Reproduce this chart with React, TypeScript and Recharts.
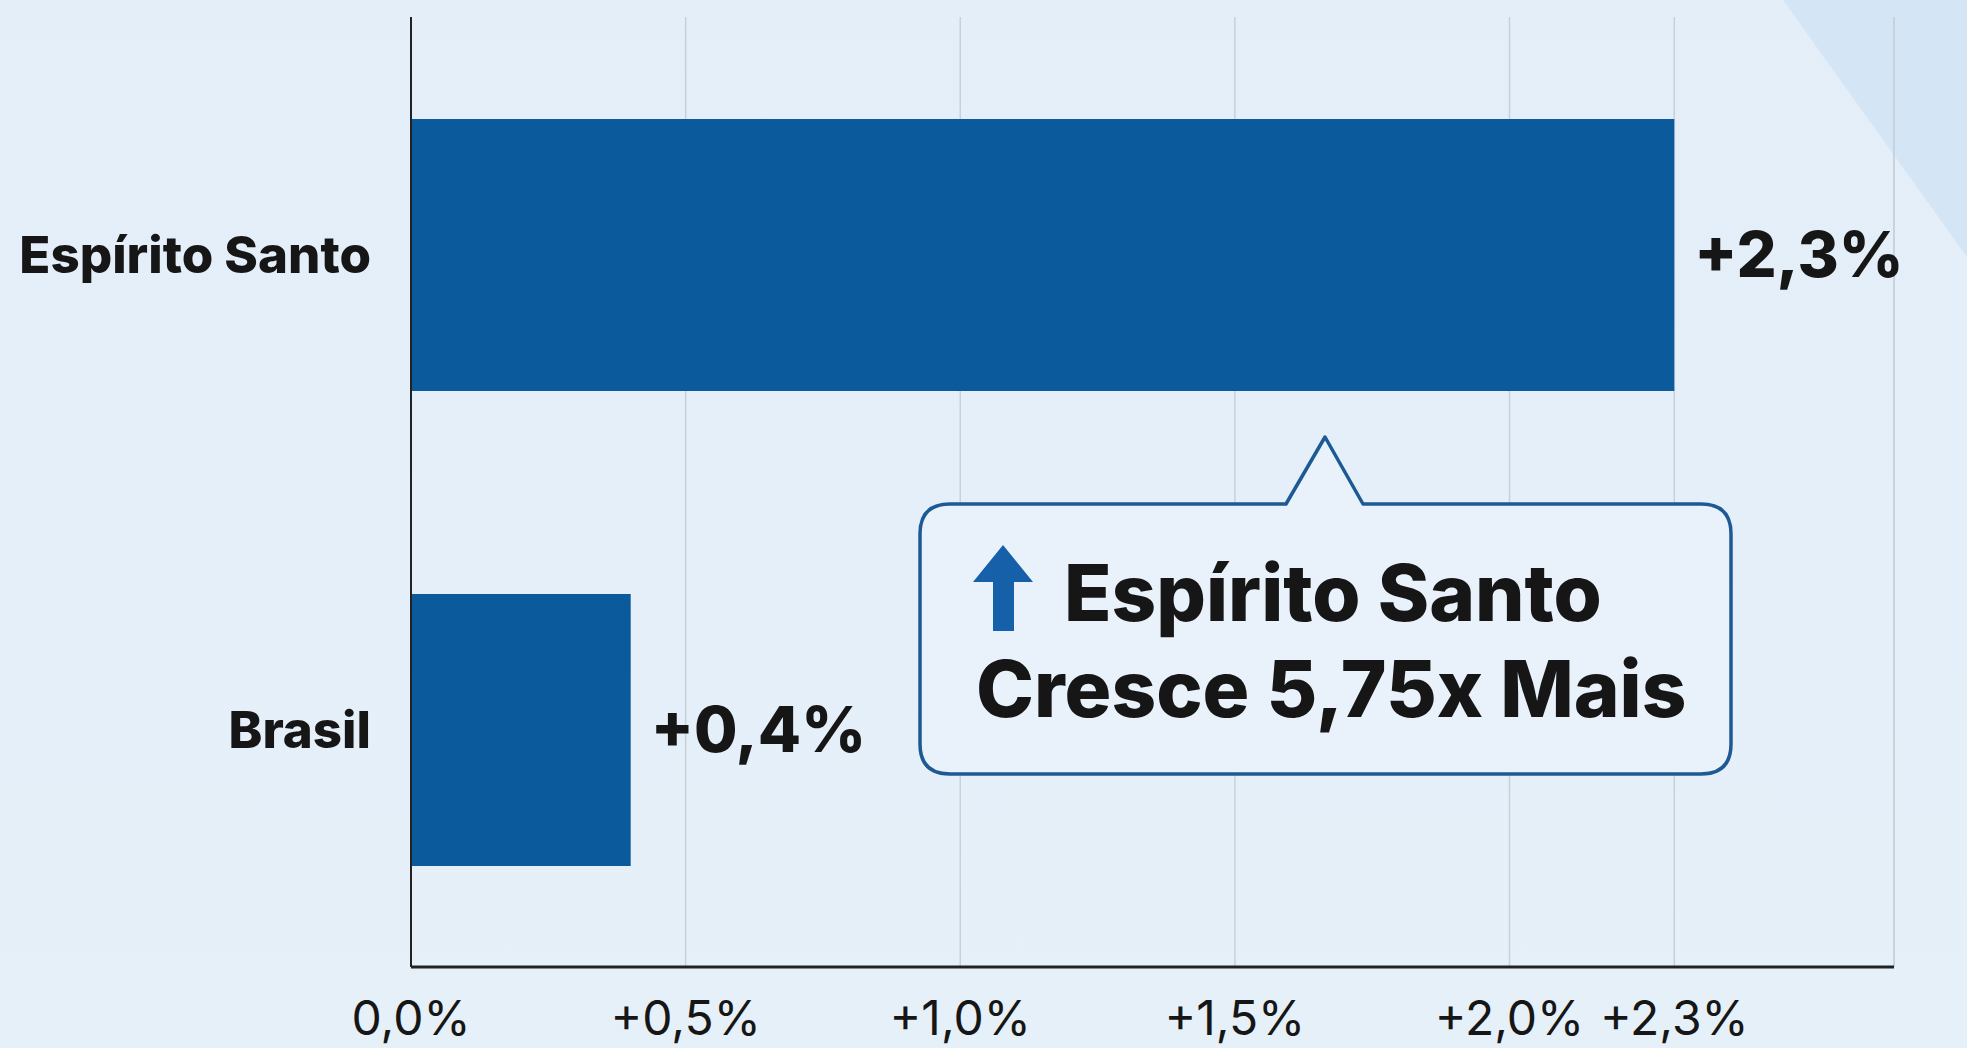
import {
    Bar,
    BarChart,
    CartesianGrid,
    LabelList,
    ReferenceLine,
    XAxis,
    YAxis
} from "recharts";

const regions = ["Espírito Santo", "Brasil"];
const growth = [2.3, 0.4];
const xTicks = [0, 0.5, 1.0, 1.5, 2.0, 2.3];
const xMax = 2.7;

const data = regions.map((name, i) => ({ name, growth: growth[i] }));

const FONT = "Inter, 'Open Sans', sans-serif";
const INK = "#161616";
const BLUE = "#0a5a9c";

const fmtPct = (v: number) =>
    v === 0 ? "0,0%" : `+${v.toFixed(1).replace(".", ",")}%`;

// speech bubble with an arrow, sits over the chart
const Callout = () => {
    const ratio = (growth[0] / growth[1]).toFixed(2).replace(".", ",");
    const x0 = 920, x1 = 1731, y0 = 504, y1 = 774, r = 30;
    const d = [
        `M ${x0 + r} ${y0}`,
        `L 1286 ${y0} L 1325 437 L 1363 ${y0}`,
        `L ${x1 - r} ${y0} Q ${x1} ${y0} ${x1} ${y0 + r}`,
        `L ${x1} ${y1 - r} Q ${x1} ${y1} ${x1 - r} ${y1}`,
        `L ${x0 + r} ${y1} Q ${x0} ${y1} ${x0} ${y1 - r}`,
        `L ${x0} ${y0 + r} Q ${x0} ${y0} ${x0 + r} ${y0} Z`,
    ].join(" ");
    return (
        <svg width={1967} height={1048} style={{ position: "absolute", left: 0, top: 0, pointerEvents: "none" }}>
            <path d={d} fill="#e9f2fb" stroke="#1d5a93" strokeWidth={3.5} strokeLinejoin="round" />
            <path d="M 1003 545 L 1033 582 L 1014 582 L 1014 631 L 993 631 L 993 582 L 973 582 Z" fill="#1560a8" />
            <text x={1064} y={621} fontFamily={FONT} fontSize={78} fontWeight={800} fill={INK}>
                {regions[0]}
            </text>
            <text x={976} y={717} fontFamily={FONT} fontSize={78} fontWeight={800} fill={INK}>
                {`Cresce ${ratio}x Mais`}
            </text>
        </svg>
    );
};

export default function App() {
    return (
        <div style={{
            position: "fixed",
            left: 0,
            top: 0,
            width: 1967,
            height: 1048,
            overflow: "hidden",
            background: "linear-gradient(180deg, #e3eef9 0%, #e6f0f9 100%)",
            fontFamily: FONT,
        }}>
            {/* decorative corner shape */}
            <svg width={1967} height={1048} style={{ position: "absolute", left: 0, top: 0 }}>
                <polygon points="1783,0 1967,0 1967,257" fill="#d4e6f5" />
            </svg>

            <div style={{ position: "absolute", left: 0, top: 0 }}>
                <BarChart
                    width={1967}
                    height={1048}
                    data={data}
                    layout="vertical"
                    margin={{ top: 17, right: 73, bottom: 0, left: 0 }}
                >
                    <CartesianGrid horizontal={false} stroke="#c8d0d8" strokeWidth={1.5} />
                    <XAxis
                        type="number"
                        domain={[0, xMax]}
                        ticks={xTicks}
                        interval={0}
                        allowDataOverflow
                        height={81}
                        axisLine={{ stroke: "#222", strokeWidth: 3 }}
                        tickLine={false}
                        tickSize={0}
                        tickMargin={34}
                        tick={{ fontSize: 48, fill: INK, fontFamily: FONT, fontWeight: 400 }}
                        tickFormatter={fmtPct}
                    />
                    <YAxis
                        type="category"
                        dataKey="name"
                        width={411}
                        axisLine={{ stroke: "#222", strokeWidth: 2 }}
                        tickLine={false}
                        tickSize={0}
                        tickMargin={40}
                        tick={{ fontSize: 51, fill: INK, fontFamily: FONT, fontWeight: 800 }}
                    />
                    <ReferenceLine x={xMax} stroke="#c8d0d8" strokeWidth={1.5} />
                    <Bar dataKey="growth" fill={BLUE} barSize={272} isAnimationActive={false}>
                        <LabelList
                            dataKey="growth"
                            position="right"
                            offset={20}
                            formatter={(v: any) => fmtPct(Number(v))}
                            style={{ fontSize: 63, fontWeight: 800, fill: INK, fontFamily: FONT }}
                        />
                    </Bar>
                </BarChart>
            </div>

            <Callout />
        </div>
    );
}
